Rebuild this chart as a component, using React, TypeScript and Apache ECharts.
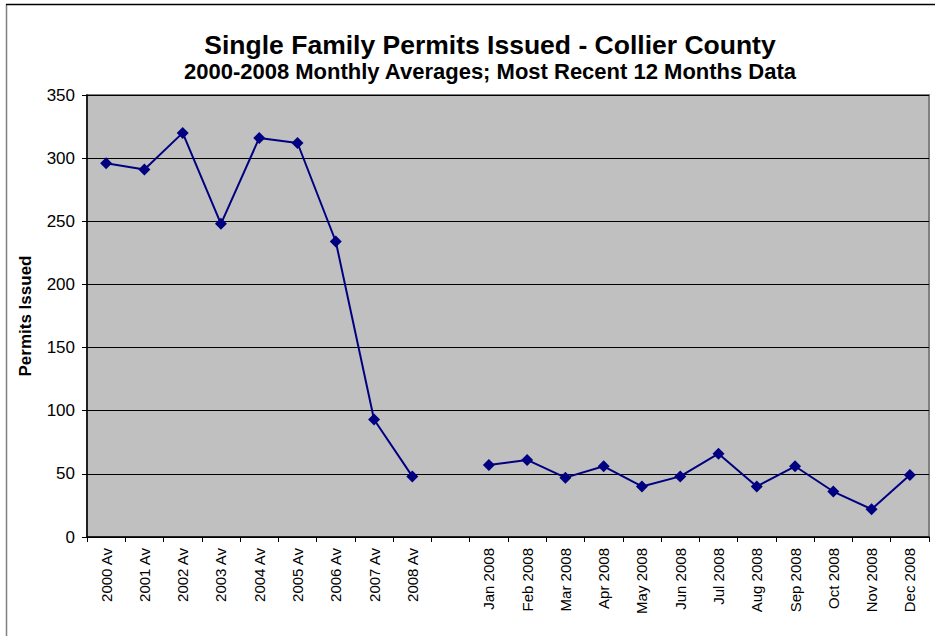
import React, { useEffect, useRef } from "react";
import * as echarts from "echarts";

const categories: string[] = [
  "2000 Av", "2001 Av", "2002 Av", "2003 Av", "2004 Av", "2005 Av", "2006 Av", "2007 Av", "2008 Av",
  "",
  "Jan 2008", "Feb 2008", "Mar 2008", "Apr 2008", "May 2008", "Jun 2008",
  "Jul 2008", "Aug 2008", "Sep 2008", "Oct 2008", "Nov 2008", "Dec 2008",
];

const annualAverages: number[] = [296, 291, 320, 248, 316, 312, 234, 93, 48];
const gapValue: (number | null)[] = [null];
const monthly2008: number[] = [57, 61, 47, 56, 40, 48, 66, 40, 56, 36, 22, 49];

const yTicks: number[] = [0, 50, 100, 150, 200, 250, 300, 350];

const titleText = "Single Family Permits Issued - Collier County";
const subtitleText = "2000-2008 Monthly Averages; Most Recent 12 Months Data";
const yAxisName = "Permits Issued";

export default function App() {
  const ref = useRef<HTMLDivElement>(null);

  useEffect(() => {
    if (!ref.current) return;
    const chart = echarts.init(ref.current, undefined, { renderer: "svg" });
    const seriesData = [...annualAverages, ...gapValue, ...monthly2008];
    const font = "'Liberation Sans', Arial, sans-serif";
    chart.setOption({
      animation: false,
      backgroundColor: "#ffffff",
      textStyle: { fontFamily: font },
      graphic: [
        { type: "line", shape: { x1: 6.5, y1: 4, x2: 6.5, y2: 636 }, style: { stroke: "#808080", lineWidth: 1.5 } },
        { type: "line", shape: { x1: 6, y1: 4.5, x2: 935, y2: 4.5 }, style: { stroke: "#000000", lineWidth: 1.5 } },
        {
          type: "text", x: 490, y: 45,
          style: { text: titleText, font: `bold 26.5px ${font}`, fill: "#000", textAlign: "center", textVerticalAlign: "middle" },
        },
        {
          type: "text", x: 490, y: 71,
          style: { text: subtitleText, font: `bold 22px ${font}`, fill: "#000", textAlign: "center", textVerticalAlign: "middle" },
        },
      ],
      grid: {
        left: 87, right: 6, top: 95, bottom: 99,
        show: true, backgroundColor: "#C0C0C0", borderColor: "#808080", borderWidth: 2,
        containLabel: false,
      },
      xAxis: {
        type: "category",
        data: categories,
        boundaryGap: true,
        axisLine: { lineStyle: { color: "#000", width: 1.5 } },
        axisTick: { show: true, interval: 0, length: 5, lineStyle: { color: "#000" } },
        axisLabel: {
          interval: 0, rotate: 90, margin: 11, fontSize: 15, color: "#000", fontFamily: font,
        },
        splitLine: { show: false },
      },
      yAxis: {
        type: "value",
        min: yTicks[0],
        max: yTicks[yTicks.length - 1],
        interval: 50,
        name: yAxisName,
        nameLocation: "middle",
        nameGap: 53,
        nameRotate: 90,
        nameTextStyle: { fontSize: 17, fontWeight: "bold", color: "#000", fontFamily: font },
        axisLine: { show: true, lineStyle: { color: "#000", width: 1.5 } },
        axisTick: { show: true, length: 5, lineStyle: { color: "#000" } },
        axisLabel: { fontSize: 17, color: "#000", margin: 12, fontFamily: font },
        splitLine: { show: true, lineStyle: { color: "#000", width: 1 } },
      },
      series: [
        {
          type: "line",
          data: seriesData,
          connectNulls: false,
          symbol: "diamond",
          symbolSize: 12,
          itemStyle: { color: "#000080" },
          lineStyle: { color: "#000080", width: 2 },
        },
      ],
    });
    return () => chart.dispose();
  }, []);

  return (
    <div
      ref={ref}
      style={{ position: "fixed", left: 0, top: 0, width: 935, height: 636, background: "#fff" }}
    />
  );
}
